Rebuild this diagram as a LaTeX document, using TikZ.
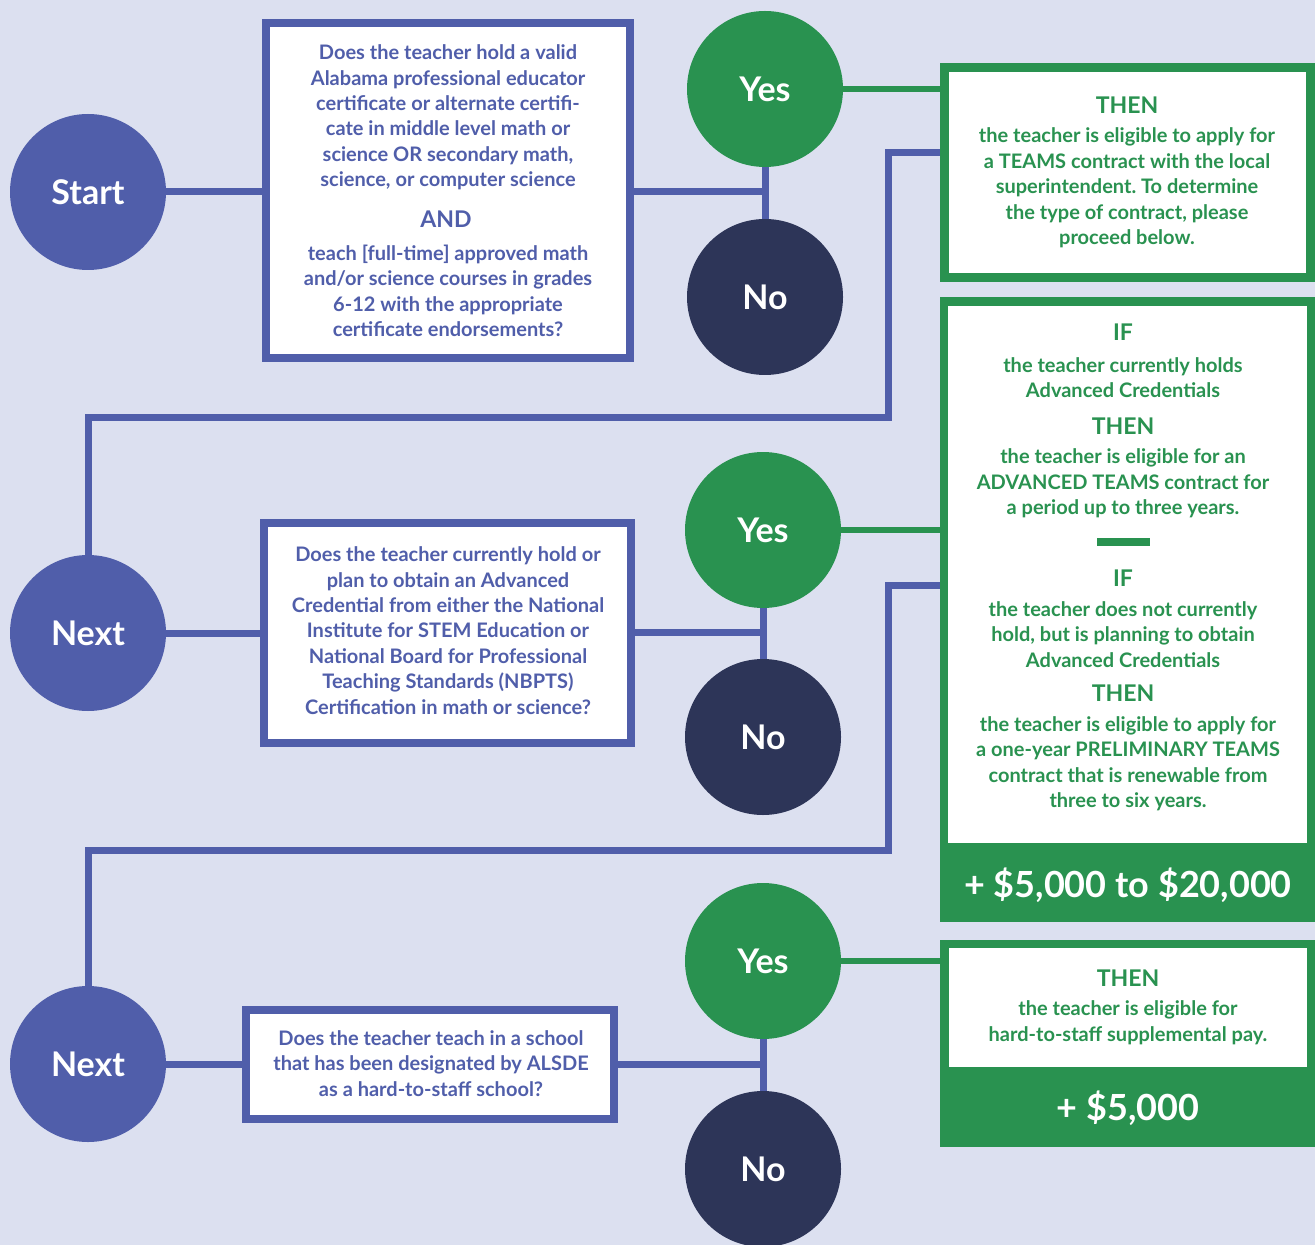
\documentclass[tikz,border=0pt]{standalone}
\usepackage{fontspec}
\setmainfont{Lato}
\usetikzlibrary{calc}
\definecolor{bgc}{RGB}{220,224,240}
\definecolor{bluec}{RGB}{80,94,170}
\definecolor{navyc}{RGB}{45,53,88}
\definecolor{greenc}{RGB}{41,146,80}
\frenchspacing
\begin{document}
\begin{tikzpicture}[x=0.5pt,y=-0.5pt,
  circ/.style={circle, minimum size=78pt, inner sep=0pt, text=white, font=\fontsize{17}{19}\selectfont\bfseries},
  bluecirc/.style={circ, fill=bluec},
  yescirc/.style={circ, fill=greenc},
  nocirc/.style={circ, fill=navyc},
  qbox/.style={draw=bluec, line width=4pt, fill=white, rectangle, inner sep=0pt},
  qtext/.style={text=bluec, align=center, inner sep=0pt, font=\fontsize{10}{12.7}\selectfont\bfseries},
  qhead/.style={text=bluec, align=center, inner sep=0pt, font=\fontsize{11.5}{13}\selectfont\bfseries},
  gtext/.style={text=greenc, align=center, inner sep=0pt, font=\fontsize{10}{12.75}\selectfont\bfseries},
  ghead/.style={text=greenc, align=center, inner sep=0pt, font=\fontsize{11.5}{13}\selectfont\bfseries},
  money/.style={text=white, inner sep=0pt, font=\fontsize{18}{20}\selectfont\bfseries},
  bline/.style={draw=bluec, line width=3.5pt},
  gline/.style={draw=greenc, line width=3pt}
]
\useasboundingbox (0,0) rectangle (1315,1245);
\fill[bgc] (0,0) rectangle (1315,1245);

% ---------- row 1 ----------
\node[bluecirc] (start) at (88,192) {Start};
\node[qbox, minimum width=182pt, minimum height=167.5pt] (q1) at (448,190.5) {};
\node[qtext] (q1a) at (448,117.5) {Does the teacher hold a valid\\Alabama professional educator\\certificate or alternate certifi-\\cate in middle level math or\\science OR secondary math,\\science, or computer science};
\node[qhead] (q1and) at (446,219) {AND};
\node[qtext] (q1b) at (448,291) {teach [full-time] approved math\\and/or science courses in grades\\6-12 with the appropriate\\certificate endorsements?};
\node[yescirc] (yes1) at (765,89) {Yes};
\node[nocirc] (no1) at (765,297) {No};
\coordinate (j1) at (765,192);
\node[draw=greenc, line width=4.5pt, fill=white, rectangle, inner sep=0pt, minimum width=183pt, minimum height=105pt] (r1) at (1127.5,172.5) {};
\node[ghead] (r1h) at (1127,105) {THEN};
\node[gtext] (r1t) at (1127,188) {the teacher is eligible to apply for\\a TEAMS contract with the local\\superintendent. To determine\\the type of contract, please\\proceed below.};

% ---------- row 2 ----------
\node[bluecirc] (next1) at (88,633) {Next};
\node[qbox, minimum width=183.5pt, minimum height=110pt] (q2) at (447.5,633) {};
\node[qtext] (q2t) at (448,630.5) {Does the teacher currently hold or\\plan to obtain an Advanced\\Credential from either the National\\Institute for STEM Education or\\National Board for Professional\\Teaching Standards (NBPTS)\\Certification in math or science?};
\node[yescirc] (yes2) at (763,530) {Yes};
\node[nocirc] (no2) at (763,737) {No};
\coordinate (j2) at (763,632);
\node[fill=greenc, rectangle, inner sep=0pt, minimum width=187.5pt, minimum height=312.5pt] (r2) at (1127.5,609.5) {};
\node[fill=white, rectangle, inner sep=0pt, minimum width=179.5pt, minimum height=268.5pt] (r2in) at (1127.5,574.5) {};
\node[ghead] (r2h1) at (1123,332) {IF};
\node[gtext] (r2t1) at (1123,377.5) {the teacher currently holds\\Advanced Credentials};
\node[ghead] (r2h2) at (1123,426) {THEN};
\node[gtext] (r2t2) at (1123,483.5) {the teacher is eligible for an\\ADVANCED TEAMS contract for\\a period up to three years.};
\node[fill=greenc, rectangle, inner sep=0pt, minimum width=26.5pt, minimum height=4pt] (bar) at (1123.5,542) {};
\node[ghead] (r2h3) at (1123,578) {IF};
\node[gtext] (r2t3) at (1123,634.5) {the teacher does not currently\\hold, but is planning to obtain\\Advanced Credentials};
\node[ghead] (r2h4) at (1123,693) {THEN};
\node[gtext] (r2t4) at (1128,763.5) {the teacher is eligible to apply for\\a one-year PRELIMINARY TEAMS\\contract that is renewable from\\three to six years.};
\node[money] (m2) at (1128,885) {+ \$5,000 to \$20,000};

% ---------- row 3 ----------
\node[bluecirc] (next2) at (88,1064) {Next};
\node[qbox, minimum width=184pt, minimum height=54.5pt] (q3) at (430,1064.5) {};
\node[qtext] (q3t) at (431,1063.5) {Does the teacher teach in a school\\that has been designated by ALSDE\\as a hard-to-staff school?};
\node[yescirc] (yes3) at (763,961) {Yes};
\node[nocirc] (no3) at (763,1169) {No};
\coordinate (j3) at (763,1064);
\node[fill=greenc, rectangle, inner sep=0pt, minimum width=187.5pt, minimum height=103.5pt] (r3) at (1127.5,1043.5) {};
\node[fill=white, rectangle, inner sep=0pt, minimum width=179pt, minimum height=59.5pt] (r3in) at (1128,1007.5) {};
\node[ghead] (r3h) at (1128,978) {THEN};
\node[gtext] (r3t) at (1128,1022.5) {the teacher is eligible for\\hard-to-staff supplemental pay.};
\node[money] (m3) at (1128,1108) {+ \$5,000};

% ---------- connectors ----------
\draw[bline] (start.east) -- (start.east -| q1.west);
\draw[bline] (j1 -| q1.east) -- (j1);
\draw[bline] (yes1.south) -- (no1.north);
\draw[gline] (yes1.east) -- (yes1.east -| r1.west);
\draw[bline] (r1.west |- 0,153) -| (888,418) -| (next1.north);

\draw[bline] (next1.east) -- (next1.east -| q2.west);
\draw[bline] (j2 -| q2.east) -- (j2);
\draw[bline] (yes2.south) -- (no2.north);
\draw[gline] (yes2.east) -- (yes2.east -| r2.west);
\draw[bline] (r2.west |- 0,585) -| (888,850) -| (next2.north);

\draw[bline] (next2.east) -- (next2.east -| q3.west);
\draw[bline] (j3 -| q3.east) -- (j3);
\draw[bline] (yes3.south) -- (no3.north);
\draw[gline] (yes3.east) -- (yes3.east -| r3.west);
\end{tikzpicture}
\end{document}
